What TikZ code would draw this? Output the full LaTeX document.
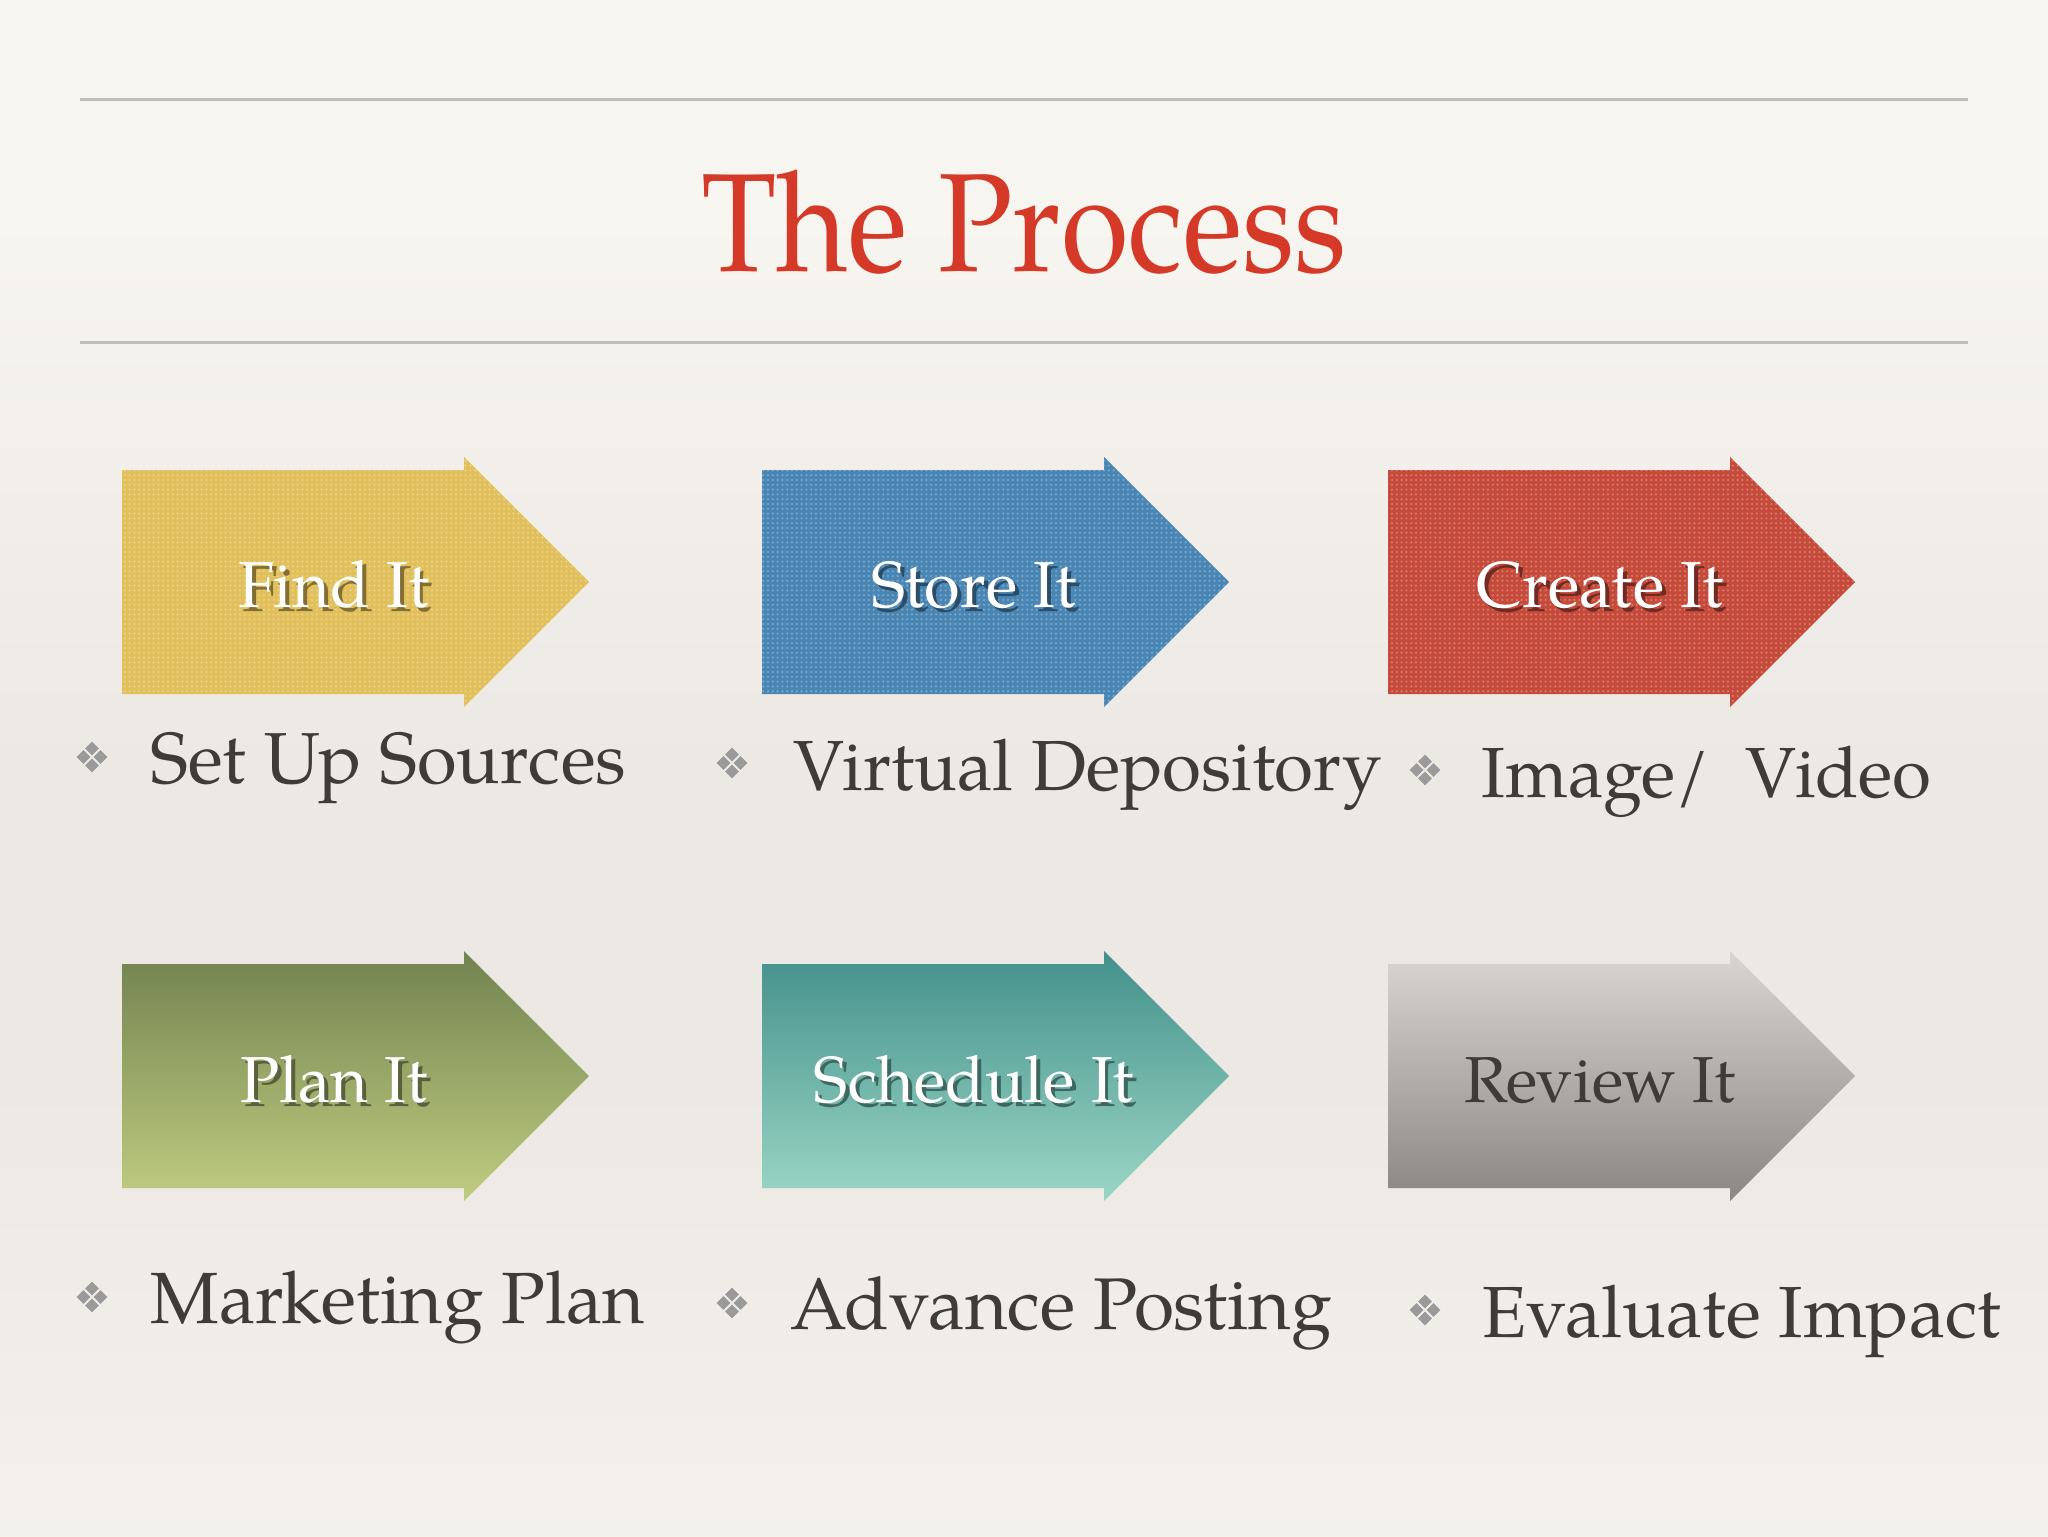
\documentclass[tikz,border=0pt]{standalone}
\usepackage{fontspec}
\setmainfont{TeX Gyre Pagella}
\usetikzlibrary{patterns.meta}
\definecolor{bgA}{HTML}{F7F5EF}
\definecolor{bgB}{HTML}{ECE8E4}
\definecolor{rulegray}{HTML}{BFBFB7}
\definecolor{titlered}{HTML}{D53A29}
\definecolor{bodytext}{HTML}{403B38}
\definecolor{bulletgray}{HTML}{9A9A9A}
\definecolor{findcol}{HTML}{E1C05C}
\definecolor{storecol}{HTML}{4A86B4}
\definecolor{createcol}{HTML}{C54A3A}
\definecolor{plantop}{HTML}{728250}
\definecolor{planbot}{HTML}{C0CC80}
\definecolor{planmid}{HTML}{98A766}
\definecolor{schedtop}{HTML}{43908B}
\definecolor{schedbot}{HTML}{9BD6C4}
\definecolor{schedmid}{HTML}{6AB2A8}
\definecolor{revtop}{HTML}{DAD5D1}
\definecolor{revbot}{HTML}{8B8683}
\pgfdeclareverticalshading{bgshade}{100bp}{color(0bp)=(bgA); color(18bp)=(bgA); color(40bp)=(bgB); color(50bp)=(bgB); color(68bp)=(bgA); color(100bp)=(bgA)}
% white text with a soft dark shadow, in one box
\newcommand\shadowtext[2]{%
  \rlap{\kern2pt\lower2pt\hbox{\color{#1!58!black}#2}}%
  #2}
\begin{document}
\begin{tikzpicture}[x=0.5pt,y=-0.5pt,
  arrowat/.style 2 args={insert path={(#1,#2-112) -- (#1+342,#2-112) -- (#1+342,#2-125) -- (#1+467,#2) -- (#1+342,#2+125) -- (#1+342,#2+112) -- (#1,#2+112) -- cycle}},
  texture/.style={pattern={Dots[distance=2.4pt,radius=0.6pt]}, pattern color=white, opacity=0.28},
  lbl/.style={anchor=base, inner sep=0pt, font=\fontsize{32.5}{39}\selectfont, text=white},
  item/.style={anchor=base west, inner sep=0pt, font=\fontsize{#1}{42}\selectfont, text=bodytext},
  item/.default=35.5,
  rule/.style={draw=rulegray, line width=1.5pt},
  diam/.style={fill=bulletgray},
]
\useasboundingbox (0,0) rectangle (2048,1536);
\shade[shading=bgshade] (0,0) rectangle (2048,1536);

% rules
\coordinate (r1a) at (80,100);  \coordinate (r1b) at (1968,100);
\coordinate (r2a) at (80,342);  \coordinate (r2b) at (1968,342);
\draw[rule] (r1a) -- (r1b);
\draw[rule] (r2a) -- (r2b);

% title
\node[anchor=base, inner sep=0pt, text=titlered, font=\fontsize{70}{80}\selectfont] (title) at (1024,271) {\scalebox{0.88}[1]{The Process}};

% arrows row 1
\fill[findcol, arrowat={122}{582}];
\fill[texture, arrowat={122}{582}];
\fill[storecol, arrowat={762}{582}];
\fill[texture, arrowat={762}{582}];
\fill[createcol, arrowat={1388}{582}];
\fill[texture, arrowat={1388}{582}];
% arrows row 2
\shade[top color=plantop, bottom color=planbot, arrowat={122}{1076}];
\shade[top color=schedtop, bottom color=schedbot, arrowat={762}{1076}];
\shade[top color=revtop, bottom color=revbot, arrowat={1388}{1076}];

% labels
\node[lbl] (find) at (334,607) {\shadowtext{findcol}{Find It}};
\node[lbl] (store) at (974,607) {\shadowtext{storecol}{Store It}};
\node[lbl] (create) at (1600,607) {\shadowtext{createcol}{Create It}};
\node[lbl] (plan) at (334,1102) {\shadowtext{planmid}{Plan It}};
\node[lbl] (sched) at (974,1102) {\shadowtext{schedmid}{Schedule It}};
\node[lbl, text=bodytext] (review) at (1600,1102) {Review It};

% bullets
\foreach \n/\cx/\cy in {b1/92/757, b2/732/763, b3/1425/770, b4/92/1297, b5/732/1303, b6/1425/1310}{
  \foreach \dx/\dy in {0/-8.5, 0/8.5, -8.5/0, 8.5/0}{
    \fill[diam] (\cx+\dx,\cy+\dy-6.8) -- (\cx+\dx+6.8,\cy+\dy) -- (\cx+\dx,\cy+\dy+6.8) -- (\cx+\dx-6.8,\cy+\dy) -- cycle;
  }
  \coordinate (\n) at (\cx,\cy);
}

% bullet texts
\node[item=36.1] (t1) at (150,783) {Set Up Sources};
\node[item] (t2) at (793,790) {Virtual Depository};
\node[item] (t3) at (1481,797) {Image/\ \ Video};
\node[item=36.3] (t4) at (150,1323) {Marketing Plan};
\node[item=36.6] (t5) at (790,1329) {Advance Posting};
\node[item=36.2] (t6) at (1482,1337) {Evaluate Impact};
\end{tikzpicture}
\end{document}
